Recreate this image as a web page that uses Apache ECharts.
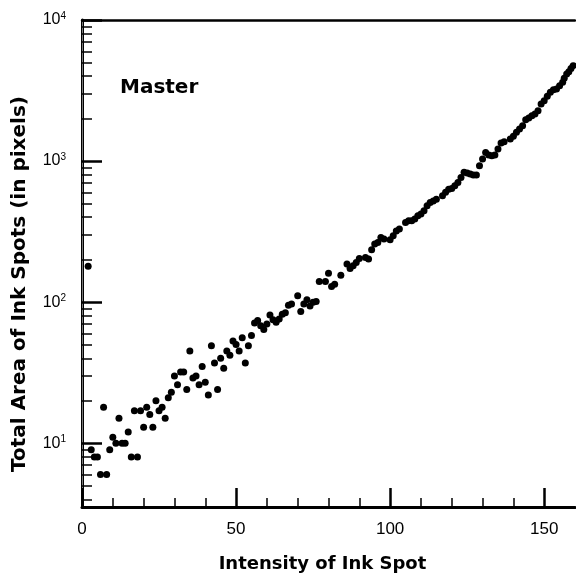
<!DOCTYPE html>
<html><head><meta charset="utf-8">
<script src="https://cdn.jsdelivr.net/npm/echarts@6/dist/echarts.min.js"></script>
<style>html,body{margin:0;padding:0;background:#fff}#c{width:576px;height:578px}</style>
</head><body><div id="c"></div>
<script>
const intensity = [2,3,4,5,6,7,8,9,10,11,12,13,14,15,16,17,18,19,20,21,22,23,24,25,26,27,28,29,30,31,32,33,34,35,36,37,38,39,40,41,42,43,44,45,46,47,48,49,50,51,52,53,54,55,56,57,58,59,60,61,62,63,64,65,66,67,68,70,71,72,73,74,75,76,77,79,80,81,82,84,86,87,88,89,90,92,93,94,95,96,97,98,100,101,102,103,105,106,107,108,109,110,111,112,113,114,115,117,118,119,120,121,122,123,124,125,126,127,128,129,130,131,132,133,134,135,136,137,139,140,141,142,143,144,145,146,147,148,149,150,151,152,153,154,155,156,156.5,157.3,158,158.7,159.4];
const area = [180,9,8,8,6,18,6,9,11,10,15,10,10,12,8,17,8,17,13,18,16,13,20,17,18,15,21,23,30,26,32,32,24,45,29,30,26,35,27,22,49,37,24,40,34,45,42,53,50,45,56,37,49,58,71,74,68,64,70,81,75,72,76,82,84,95,97,111,86,97,104,94,100,101,140,140,160,129,134,155,186,173,181,191,204,207,202,235,258,265,287,280,277,296,320,330,367,377,377,388,410,421,444,482,509,522,537,567,600,632,640,668,706,766,832,822,809,796,796,927,1033,1152,1103,1092,1103,1217,1342,1371,1432,1497,1598,1687,1780,1963,2018,2095,2153,2275,2536,2677,2876,3072,3206,3241,3420,3614,3860,4140,4300,4540,4740];
const xMajorTicks = [0,50,100,150];
const xMinorTicks = [10,20,30,40,60,70,80,90,110,120,130,140];
const yMajorTicks = [10,100,1000,10000];
const yMinorTicks = [4,5,6,7,8,9,20,30,40,50,60,70,80,90,200,300,400,500,600,700,800,900,2000,3000,4000,5000,6000,7000,8000,9000];
const xTitle = 'Intensity of Ink Spot';
const yTitle = 'Total Area of Ink Spots (in pixels)';
const panelLabel = 'Master';

const X_MIN = 0, X_MAX = 160, Y_MIN = 3.53, Y_MAX = 10000;
const numFont = '"Liberation Sans", Arial, sans-serif';
const boldFont = '"DejaVu Sans", sans-serif';

const chart = echarts.init(document.getElementById('c'), null, {renderer: 'canvas'});
const baseX = {type: 'value', min: X_MIN, max: X_MAX, splitLine: {show: false}, minorTick: {show: false}};
const baseY = {type: 'log', logBase: 10, min: Y_MIN, max: Y_MAX, splitLine: {show: false}, minorTick: {show: false}};

chart.setOption({
  animation: false,
  backgroundColor: '#fff',
  grid: {left: 82, top: 20, right: 1, bottom: 70, show: false},
  xAxis: [
    Object.assign({}, baseX, {
      position: 'bottom',
      axisLine: {show: true, lineStyle: {color: '#000', width: 3}},
      axisTick: {show: true, inside: true, length: 19, customValues: xMajorTicks, lineStyle: {color: '#000', width: 2.5}},
      axisLabel: {show: true, customValues: xMajorTicks, margin: 14, color: '#000', fontSize: 17, fontFamily: numFont},
      name: xTitle, nameLocation: 'middle', nameGap: 48,
      nameTextStyle: {color: '#000', fontSize: 18, fontWeight: 'bold', fontFamily: boldFont, padding: [0, 12, 0, 0]}
    }),
    Object.assign({}, baseX, {
      position: 'bottom',
      axisLine: {show: false},
      axisTick: {show: true, inside: true, length: 9, customValues: xMinorTicks, lineStyle: {color: '#000', width: 1.5}},
      axisLabel: {show: false}
    }),
    Object.assign({}, baseX, {
      position: 'top',
      axisLine: {show: true, lineStyle: {color: '#000', width: 2.5}},
      axisTick: {show: false}, axisLabel: {show: false}
    })
  ],
  yAxis: [
    Object.assign({}, baseY, {
      position: 'left',
      axisLine: {show: true, lineStyle: {color: '#000', width: 3}},
      axisTick: {show: true, inside: true, length: 20, customValues: yMajorTicks, lineStyle: {color: '#000', width: 2.5}},
      axisLabel: {
        show: true, customValues: yMajorTicks, margin: 16, color: '#000',
        formatter: function (v) { return '{b|10}{s|' + Math.round(Math.log10(v)) + '}'; },
        rich: {
          b: {fontSize: 16, fontFamily: numFont, color: '#000'},
          s: {fontSize: 10, fontFamily: numFont, color: '#000', verticalAlign: 'bottom', padding: [0, 0, 8, 0]}
        }
      }
    }),
    Object.assign({}, baseY, {
      position: 'left',
      axisLine: {show: false},
      axisTick: {show: true, inside: true, length: 10, customValues: yMinorTicks, lineStyle: {color: '#000', width: 1.5}},
      axisLabel: {show: false}
    }),
    Object.assign({}, baseY, {
      position: 'right',
      axisLine: {show: true, lineStyle: {color: '#777', width: 1}},
      axisTick: {show: false}, axisLabel: {show: false}
    })
  ],
  graphic: [
    {type: 'text', x: 120, y: 78, style: {text: panelLabel, font: 'bold 20px ' + boldFont, fill: '#000', align: 'left', verticalAlign: 'top'}},
    {type: 'text', x: 20, y: 284, rotation: Math.PI / 2, style: {text: yTitle, font: 'bold 20px ' + boldFont, fill: '#000', align: 'center', verticalAlign: 'middle'}}
  ],
  series: [{
    type: 'scatter', xAxisIndex: 0, yAxisIndex: 0,
    data: intensity.map(function (x, i) { return [x, area[i]]; }),
    symbol: 'circle', symbolSize: 7,
    itemStyle: {color: '#000', opacity: 1},
    z: 5
  }]
});
</script>
</body></html>
